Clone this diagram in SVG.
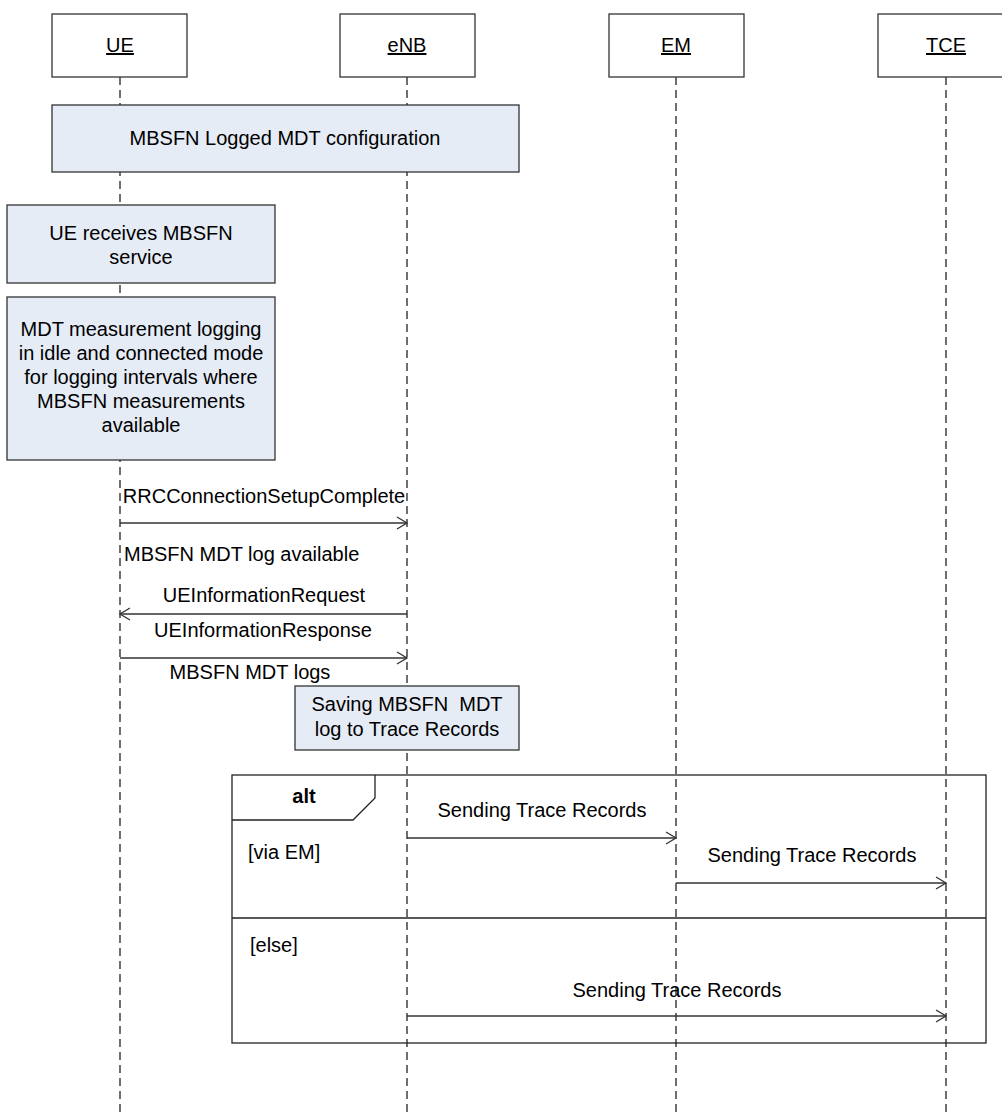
<svg xmlns="http://www.w3.org/2000/svg" width="1002" height="1113" viewBox="0 0 1002 1113">
<defs>
<style>
.t{font-family:"Liberation Sans",Arial,sans-serif;font-size:20px;fill:#000}
.c{text-anchor:middle}
.hdr{fill:#fff;stroke:#333;stroke-width:1.3}
.box{fill:#E6ECF6;stroke:#333;stroke-width:1.3}
.life{stroke:#222;stroke-width:1.3;stroke-dasharray:8 5;fill:none}
.msg{stroke:#333;stroke-width:1.3;fill:none}
.frame{fill:none;stroke:#222;stroke-width:1.3}
</style>
<marker id="ah" markerUnits="userSpaceOnUse" markerWidth="14" markerHeight="16" refX="11" refY="7" orient="auto">
<path d="M1,1 L11,7 L1,13" fill="none" stroke="#333" stroke-width="1.3"/>
</marker>
</defs>
<rect width="1002" height="1113" fill="#fff"/>

<g id="lifelines">
<line class="life" x1="120" y1="77" x2="120" y2="1113"/>
<line class="life" x1="407" y1="77" x2="407" y2="1113"/>
<line class="life" x1="676" y1="77" x2="676" y2="1113"/>
<line class="life" x1="946" y1="77" x2="946" y2="1113"/>
</g>

<g id="node-UE">
<rect class="hdr" x="52" y="14" width="135" height="63"/>
<text class="t c" x="120" y="52" text-decoration="underline">UE</text>
</g>
<g id="node-eNB">
<rect class="hdr" x="340" y="14" width="135" height="63"/>
<text class="t c" x="407" y="52" text-decoration="underline">eNB</text>
</g>
<g id="node-EM">
<rect class="hdr" x="609" y="14" width="135" height="63"/>
<text class="t c" x="676" y="52" text-decoration="underline">EM</text>
</g>
<g id="node-TCE">
<rect class="hdr" x="878" y="14" width="135" height="63"/>
<text class="t c" x="946" y="52" text-decoration="underline">TCE</text>
</g>

<g id="node-config">
<rect class="box" x="52" y="105" width="467" height="67"/>
<text class="t c" x="285" y="145">MBSFN Logged MDT configuration</text>
</g>
<g id="node-receives">
<rect class="box" x="7" y="205" width="268" height="78"/>
<text class="t c" x="141" y="240">UE receives MBSFN</text>
<text class="t c" x="141" y="264">service</text>
</g>
<g id="node-logging">
<rect class="box" x="7" y="297" width="268" height="163"/>
<text class="t c" x="141" y="336">MDT measurement logging</text>
<text class="t c" x="141" y="360">in idle and connected mode</text>
<text class="t c" x="141" y="384">for logging intervals where</text>
<text class="t c" x="141" y="408">MBSFN measurements</text>
<text class="t c" x="141" y="432">available</text>
</g>
<g id="node-saving">
<rect class="box" x="295" y="686" width="224" height="64"/>
<text class="t c" x="407" y="711" xml:space="preserve">Saving MBSFN  MDT</text>
<text class="t c" x="407" y="736">log to Trace Records</text>
</g>

<g id="node-alt">
<rect class="frame" x="232" y="775" width="754" height="268"/>
<path class="frame" d="M232,820 L353,820 L375,798 L375,775"/>
<line class="frame" x1="232" y1="918" x2="986" y2="918"/>
<text class="t c" x="304" y="803" font-weight="bold">alt</text>
<text class="t" x="248" y="859">[via EM]</text>
<text class="t" x="250" y="952">[else]</text>
</g>

<g id="connectors">
<line class="msg" x1="120" y1="523" x2="407" y2="523" marker-end="url(#ah)"/>
<text class="t c" x="264" y="503">RRCConnectionSetupComplete</text>
<text class="t" x="124" y="561">MBSFN MDT log available</text>
<line class="msg" x1="407" y1="614" x2="120" y2="614" marker-end="url(#ah)"/>
<text class="t c" x="264" y="602">UEInformationRequest</text>
<line class="msg" x1="120" y1="658" x2="407" y2="658" marker-end="url(#ah)"/>
<text class="t c" x="263" y="637">UEInformationResponse</text>
<text class="t c" x="250" y="679">MBSFN MDT logs</text>
<line class="msg" x1="407" y1="838" x2="676" y2="838" marker-end="url(#ah)"/>
<text class="t c" x="542" y="817">Sending Trace Records</text>
<line class="msg" x1="676" y1="883" x2="946" y2="883" marker-end="url(#ah)"/>
<text class="t c" x="812" y="862">Sending Trace Records</text>
<line class="msg" x1="407" y1="1016" x2="946" y2="1016" stroke-width="2" stroke="#555" marker-end="url(#ah)"/>
<text class="t c" x="677" y="997">Sending Trace Records</text>
</g>
</svg>
